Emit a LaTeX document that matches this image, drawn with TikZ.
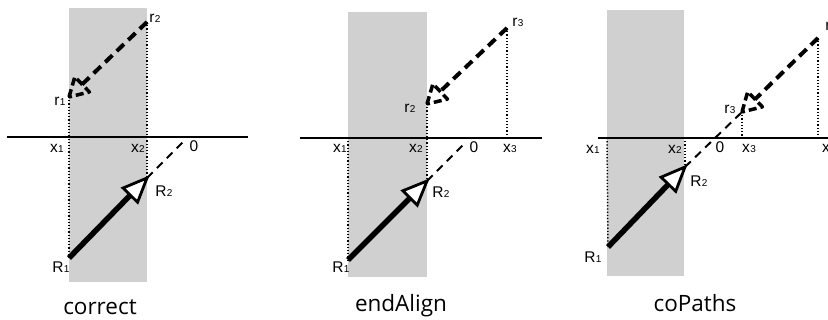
\documentclass[tikz,border=0pt]{standalone}
\usepackage{fontspec}
\setmainfont{Liberation Sans}
\newfontfamily\capfont{Open Sans}
\usetikzlibrary{calc}
\tikzset{
 shadebox/.style={fill={rgb,255:red,208;green,208;blue,208}, draw=none},
 axisline/.style={line width=1.6pt},
 guide/.style={line width=1.5pt, dash pattern=on 1.2pt off 2pt},
 solidarrow/.style={line width=5.5pt},
 openhead/.style={line width=2.8pt, fill=white, line join=miter},
 dashthick/.style={line width=4pt, dash pattern=on 10pt off 6pt},
 dashhead/.style={line width=3.5pt, dash pattern=on 8pt off 4pt, line join=round},
 dashthin/.style={line width=2pt, dash pattern=on 8pt off 6pt},
 lbl/.style={font=\fontsize{15.5}{15.5}\selectfont, inner sep=0pt},
 captext/.style={font=\capfont\fontsize{22.5}{22.5}\selectfont, inner sep=0pt, anchor=base},
}
\newcommand\sbs[2]{#1\kern0.3pt{\fontsize{10}{10}\selectfont #2}}
\newcommand\solidvec[2]{%
  \draw[solidarrow] (#1) -- ($(#2)!22pt!(#1)$);
  \draw[openhead] (#2) -- ($(#2)!26pt!23:(#1)$) -- ($(#2)!26pt!-23:(#1)$) -- cycle;}
\newcommand\dashvec[2]{%
  \draw[dashthick] (#1) -- ($(#2)!18pt!(#1)$);
  \draw[dashhead] (#2) -- ($(#2)!21pt!30:(#1)$) -- ($(#2)!21pt!-30:(#1)$) -- cycle;}
\begin{document}
\begin{tikzpicture}[x=1pt,y=-1pt]
\useasboundingbox (0,0) rectangle (828,320);
\clip (0,0) rectangle (828,320);
% ---------------- panel 1: correct
\fill[shadebox] (69,8) rectangle (147,282);
\coordinate (pa1) at (7,137);  \coordinate (pa2) at (248,137);
\coordinate (pr1) at (69,97);  \coordinate (pr2) at (147,22);
\coordinate (pR1) at (69,258); \coordinate (pR2) at (147,178);
\coordinate (po)  at (186,139);
\draw[guide] (pr2) -- (pR2);
\draw[guide] (pr1) -- (pR1);
\draw[axisline] (pa1) -- (pa2);
\draw[dashthin] (pR2) -- (po);
\solidvec{pR1}{pR2}
\dashvec{pr2}{pr1}
\node[lbl] (lpr1) at (60,101) {\sbs{r}{1}};
\node[lbl] (lpr2) at (155,18) {\sbs{r}{2}};
\node[lbl] (lpx1) at (57,148) {\sbs{x}{1}};
\node[lbl] (lpx2) at (138,148) {\sbs{x}{2}};
\node[lbl] (lpo)  at (194,146) {0};
\node[lbl] (lpR1) at (61,267) {\sbs{R}{1}};
\node[lbl] (lpR2) at (164,191) {\sbs{R}{2}};
\node[captext] (cp1) at (100,315) {correct};
% ---------------- panel 2: endAlign
\fill[shadebox] (348,12) rectangle (427,277);
\coordinate (qa1) at (300,138); \coordinate (qa2) at (542,138);
\coordinate (qr2) at (427,104); \coordinate (qr3) at (507,28);
\coordinate (qx1) at (348,138); \coordinate (qx3) at (507,138);
\coordinate (qR1) at (348,260); \coordinate (qR2) at (427,181);
\coordinate (qo)  at (465,143);
\draw[guide] (qr2) -- (qR2);
\draw[guide] (qr3) -- (qx3);
\draw[guide] (qx1) -- (qR1);
\draw[axisline] (qa1) -- (qa2);
\draw[dashthin] (qR2) -- (qo);
\solidvec{qR1}{qR2}
\dashvec{qr3}{qr2}
\node[lbl] (lqr2) at (410,108) {\sbs{r}{2}};
\node[lbl] (lqr3) at (518,22) {\sbs{r}{3}};
\node[lbl] (lqx1) at (340,148) {\sbs{x}{1}};
\node[lbl] (lqx2) at (416,148) {\sbs{x}{2}};
\node[lbl] (lqo)  at (474,147) {0};
\node[lbl] (lqx3) at (510,148) {\sbs{x}{3}};
\node[lbl] (lqR1) at (341,267) {\sbs{R}{1}};
\node[lbl] (lqR2) at (441,192) {\sbs{R}{2}};
\node[captext] (cp2) at (401,312) {endAlign};
% ---------------- panel 3: coPaths
\fill[shadebox] (607,10) rectangle (684,276);
\coordinate (sa1) at (598,138); \coordinate (sa2) at (830,138);
\coordinate (sr3) at (742,112); \coordinate (sr4) at (818,38);
\coordinate (sx1) at (607,138); \coordinate (sx2) at (685,138);
\coordinate (sx3) at (742,138); \coordinate (sx4) at (818,138);
\coordinate (sR1) at (608,247); \coordinate (sR2) at (685,167);
\draw[guide] (sx1) -- (sR1);
\draw[guide] (sx2) -- (sR2);
\draw[guide] (sr3) -- (sx3);
\draw[guide] (sr4) -- (sx4);
\draw[axisline] (sa1) -- (sa2);
\draw[dashthin] (sR2) -- (sr3);
\solidvec{sR1}{sR2}
\dashvec{sr4}{sr3}
\node[lbl] (lsr3) at (730,109) {\sbs{r}{3}};
\node[lbl] (lsr4) at (831,26) {\sbs{r}{4}};
\node[lbl] (lsx1) at (593,149) {\sbs{x}{1}};
\node[lbl] (lsx2) at (675,149) {\sbs{x}{2}};
\node[lbl] (lso)  at (720,147) {0};
\node[lbl] (lsx3) at (749,148) {\sbs{x}{3}};
\node[lbl] (lsx4) at (829,148) {\sbs{x}{4}};
\node[lbl] (lsR1) at (593,257) {\sbs{R}{1}};
\node[lbl] (lsR2) at (699,181) {\sbs{R}{2}};
\node[captext] (cp3) at (695,312) {coPaths};
\end{tikzpicture}
\end{document}
